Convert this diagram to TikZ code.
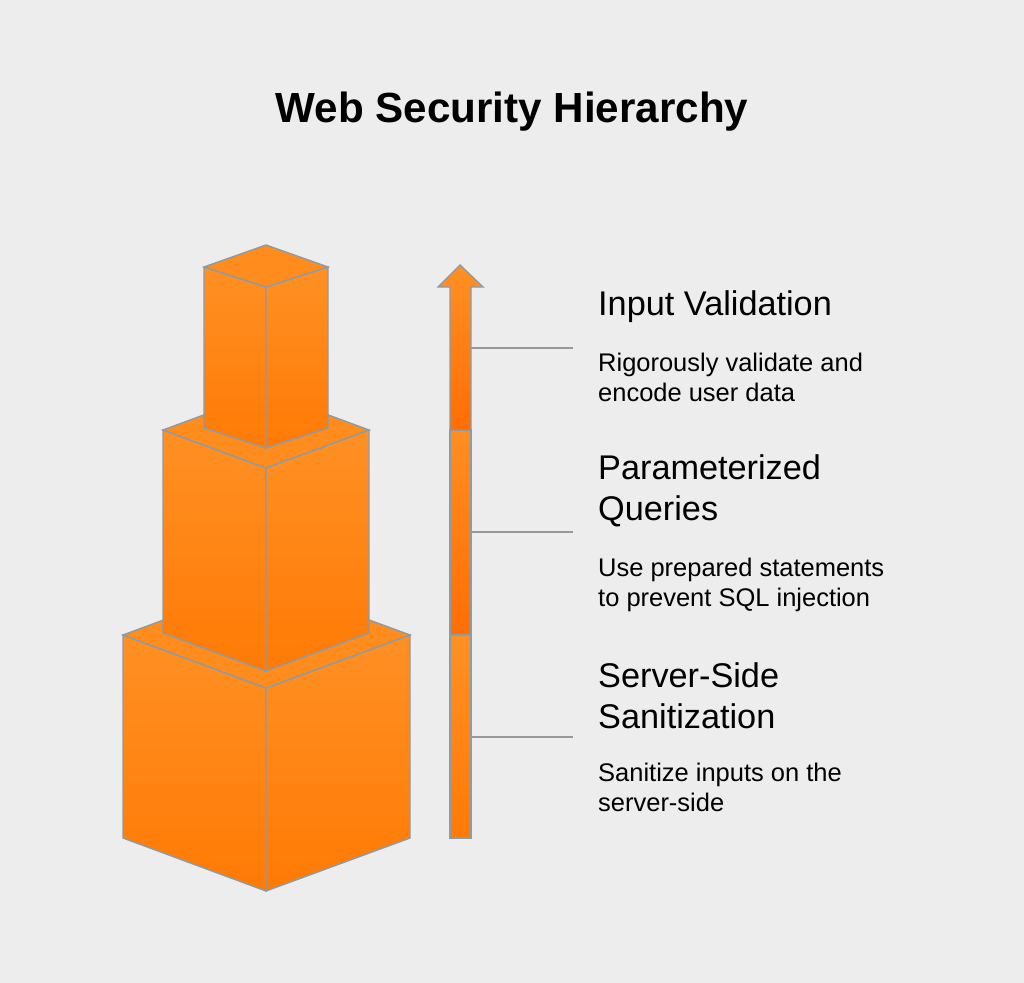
\documentclass[tikz,border=0pt]{standalone}
\usepackage{fontspec}
\setmainfont{Liberation Sans}
\usetikzlibrary{positioning}
\definecolor{bgc}{HTML}{EDEDED}
\definecolor{edgec}{HTML}{8C9BA8}
\definecolor{orA}{HTML}{FF9024}
\definecolor{orB}{HTML}{FF7A05}
\definecolor{orT}{HTML}{FF8C1C}
\tikzset{
  face/.style={draw=edgec, line width=0.8pt, top color=orA, bottom color=orB},
  topface/.style={draw=edgec, line width=0.8pt, fill=orT},
  leader/.style={draw=gray!80, line width=0.6pt},
  layername/.style={anchor=west, font=\fontsize{19.5}{23.5}\selectfont, align=left},
  layertext/.style={anchor=north west, font=\fontsize{14.5}{17}\selectfont, align=left}
}
% cube: left x, center x, right x, top y at sides, top y at front, bottom y at sides, back y
\newcommand{\isocube}[7]{%
  \path[face] (#1,#4) -- (#2,#5) -- (#2,#6+#5-#4) -- (#1,#6) -- cycle;
  \path[face] (#2,#5) -- (#3,#4) -- (#3,#6) -- (#2,#6+#5-#4) -- cycle;
  \path[topface] (#1,#4) -- (#2,#7) -- (#3,#4) -- (#2,#5) -- cycle;
}
\begin{document}
\begin{tikzpicture}[x=0.02cm, y=-0.02cm]
\useasboundingbox[fill=bgc] (0,0) rectangle (1024,983);
\node[font=\fontsize{24}{28}\selectfont\bfseries] (title) at (512,112) {Web Security Hierarchy};
% tower
\isocube{123}{266}{410}{635}{688}{838}{582}
\isocube{163}{266}{369}{430}{468}{633}{392}
\isocube{204}{266}{328}{267}{287}{428}{245}
% arrow
\path[draw=edgec, line width=0.8pt, top color=orA, bottom color=orB] (450,635) rectangle (471,838);
\path[draw=edgec, line width=0.8pt, top color=orA!90!orB, bottom color=orB!90!red] (450,430) rectangle (471,635);
\path[draw=edgec, line width=0.8pt, top color=orA, bottom color=orB!90!red] (450,430) -- (450,287) -- (438,287) -- (460,265) -- (483,287) -- (471,287) -- (471,430) -- cycle;
% leaders
\coordinate (l1) at (471,348); \coordinate (r1) at (573,348);
\coordinate (l2) at (471,532); \coordinate (r2) at (573,532);
\coordinate (l3) at (471,737); \coordinate (r3) at (573,737);
\draw[leader] (l1) -- (r1);
\draw[leader] (l2) -- (r2);
\draw[leader] (l3) -- (r3);
% labels
\node[layername] (n1) at (592,307) {Input Validation};
\node[layertext] (t1) at (592,347) {Rigorously validate and\\encode user data};
\node[layername] (n2) at (592,491) {Parameterized\\Queries};
\node[layertext] (t2) at (592,552) {Use prepared statements\\to prevent SQL injection};
\node[layername] (n3) at (592,696) {Server-Side\\Sanitization};
\node[layertext] (t3) at (592,757) {Sanitize inputs on the\\server-side};
\end{tikzpicture}
\end{document}
